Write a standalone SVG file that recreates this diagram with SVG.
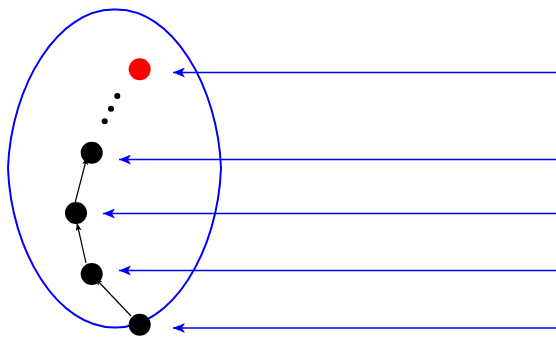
<svg xmlns="http://www.w3.org/2000/svg" width="556" height="338" viewBox="0 0 556 338">
<defs>
<style>
.conn-blue{stroke:#0000ff;stroke-width:1.3;fill:none}
.conn-black{stroke:#000;stroke-width:1.2;fill:none}
.big{fill:#000}
.small{fill:#000}
</style>
<marker id="ab" viewBox="0 0 12 10" refX="12" refY="5" markerWidth="12" markerHeight="10" markerUnits="userSpaceOnUse" orient="auto">
<path d="M0,0 L12,5 L0,10 L3,5 Z" fill="#0000ff"/>
</marker>
<marker id="ak" viewBox="0 0 8 6" refX="8" refY="3" markerWidth="8" markerHeight="6" markerUnits="userSpaceOnUse" orient="auto">
<path d="M0,0 L8,3 L0,6 L2,3 Z" fill="#000"/>
</marker>
</defs>
<rect width="556" height="338" fill="#fff"/>
<g id="set">
<path d="M115,9.5 C172,8 218,86 221,168 C218,252 172,328 115,327.5 C58,328 11,252 8,168 C11,86 58,8 115,9.5 Z" fill="none" stroke="#0000ff" stroke-width="2"/>
</g>
<g id="connectors">
<line class="conn-blue" x1="556" y1="72.5" x2="173" y2="72.5" marker-end="url(#ab)"/>
<line class="conn-blue" x1="556" y1="159.5" x2="119" y2="159.5" marker-end="url(#ab)"/>
<line class="conn-blue" x1="556" y1="213.5" x2="103" y2="213.5" marker-end="url(#ab)"/>
<line class="conn-blue" x1="556" y1="270.5" x2="119" y2="270.5" marker-end="url(#ab)"/>
<line class="conn-blue" x1="556" y1="328" x2="173" y2="328" marker-end="url(#ab)"/>
<line class="conn-black" x1="131" y1="316" x2="95" y2="278" marker-end="url(#ak)"/>
<line class="conn-black" x1="86" y1="263" x2="77" y2="223" marker-end="url(#ak)"/>
<line class="conn-black" x1="75" y1="203" x2="87" y2="157" marker-end="url(#ak)"/>
</g>
<g id="n-top"><circle cx="139.7" cy="69.3" r="11" fill="#ff0000"/></g>
<g id="dots">
<circle class="small" cx="117.3" cy="96" r="3"/>
<circle class="small" cx="111" cy="108.7" r="3"/>
<circle class="small" cx="104.7" cy="121.3" r="3"/>
</g>
<g id="n3"><circle class="big" cx="91.7" cy="152.7" r="11"/></g>
<g id="n2"><circle class="big" cx="76" cy="213" r="11"/></g>
<g id="n1"><circle class="big" cx="91.7" cy="274" r="11"/></g>
<g id="n0"><circle class="big" cx="139.7" cy="324.7" r="11"/></g>
</svg>
